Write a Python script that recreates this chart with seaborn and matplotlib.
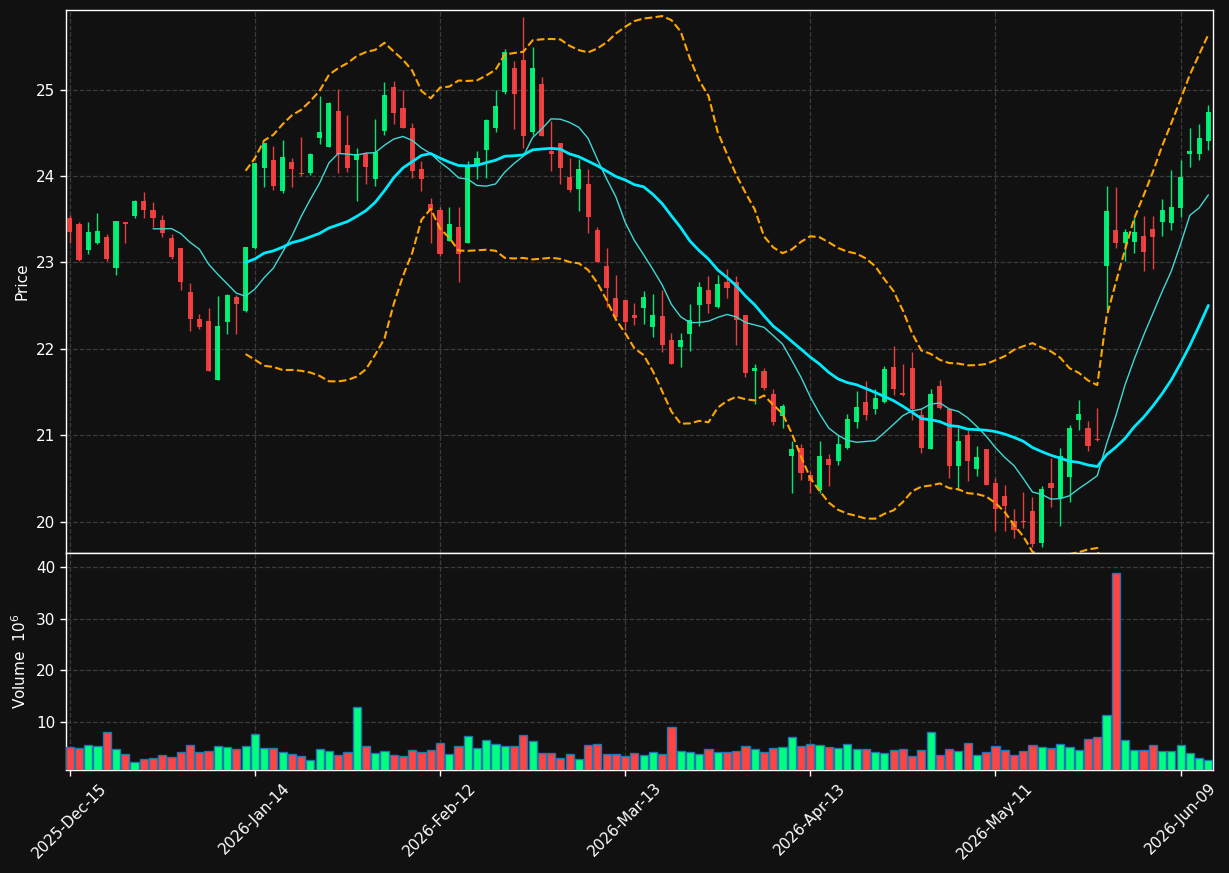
import numpy as np
import pandas as pd
import matplotlib
matplotlib.use("Agg")
import matplotlib.pyplot as plt
import seaborn as sns

start_date = "2025-12-15"
market_holidays = ["2025-12-25", "2026-01-01", "2026-01-19", "2026-02-16",
                   "2026-04-03", "2026-05-25"]

opens = [23.51, 23.45, 23.15, 23.22, 23.29, 22.94, 23.47, 23.54, 23.71, 23.61,
         23.49, 23.28, 23.17, 22.66, 22.35, 22.32, 21.64, 22.31, 22.60, 22.44,
         23.17, 24.09, 24.18, 23.83, 24.16, 24.04, 24.04, 24.44, 24.34, 24.75,
         24.36, 24.18, 24.26, 23.97, 24.52, 25.03, 24.79, 24.55, 24.08, 23.68,
         23.61, 23.25, 23.41, 23.22, 24.12, 24.30, 24.56, 24.97, 25.25, 25.34,
         24.51, 25.06, 24.29, 24.38, 23.99, 23.85, 23.91, 23.37, 22.96, 22.59,
         22.57, 22.39, 22.47, 22.25, 22.38, 22.10, 22.02, 22.17, 22.51, 22.68,
         22.49, 22.78, 22.77, 22.39, 21.75, 21.74, 21.48, 21.23, 20.76, 20.86,
         20.54, 20.37, 20.73, 20.70, 20.86, 21.16, 21.39, 21.30, 21.39, 21.79,
         21.49, 21.78, 21.24, 20.84, 21.57, 21.31, 20.65, 21.01, 20.61, 20.84,
         20.45, 20.30, 20.01, 20.01, 20.13, 19.76, 20.45, 20.28, 20.52, 21.18,
         21.08, 20.96, 22.96, 23.37, 23.23, 23.24, 23.31, 23.39, 23.47, 23.46,
         23.63, 24.26, 24.26, 24.41]
highs = [23.55, 23.47, 23.47, 23.57, 23.33, 23.48, 23.47, 23.72, 23.81, 23.70,
         23.55, 23.33, 23.17, 22.76, 22.40, 22.47, 22.61, 22.64, 22.62, 23.18,
         24.15, 24.38, 24.35, 24.42, 24.21, 24.45, 24.27, 24.93, 24.86, 25.01,
         24.71, 24.32, 24.28, 24.66, 25.09, 25.10, 24.99, 24.61, 24.17, 23.74,
         23.64, 23.64, 23.64, 24.17, 24.29, 24.66, 25.00, 25.47, 25.33, 25.84,
         25.49, 25.15, 24.64, 24.38, 24.21, 24.20, 24.08, 23.41, 23.17, 22.86,
         22.57, 22.53, 22.67, 22.63, 22.68, 22.18, 22.19, 22.52, 22.78, 22.84,
         22.85, 22.92, 22.84, 22.39, 21.83, 21.78, 21.54, 21.36, 20.94, 20.90,
         20.59, 20.94, 20.78, 21.01, 21.25, 21.51, 21.63, 21.54, 21.80, 22.03,
         21.83, 21.96, 21.31, 21.54, 21.64, 21.31, 21.08, 21.06, 20.88, 20.84,
         20.51, 20.43, 20.15, 20.35, 20.29, 20.41, 20.74, 20.86, 21.12, 21.41,
         21.17, 21.32, 23.89, 23.87, 23.39, 23.53, 23.54, 23.54, 23.73, 24.07,
         24.18, 24.55, 24.60, 24.82]
lows = [23.23, 23.02, 23.10, 23.21, 23.02, 22.86, 23.22, 23.52, 23.51, 23.41,
        23.29, 23.04, 22.68, 22.21, 22.23, 21.75, 21.64, 22.17, 22.17, 22.43,
        23.16, 23.87, 23.84, 23.80, 23.87, 24.00, 24.01, 24.37, 24.33, 24.03,
        24.05, 23.71, 23.91, 23.88, 24.47, 24.60, 24.56, 23.98, 23.83, 23.23,
        23.08, 23.25, 22.77, 23.22, 23.97, 23.98, 24.51, 24.95, 24.54, 24.32,
        24.47, 24.46, 24.06, 23.91, 23.81, 23.60, 23.34, 23.01, 22.49, 22.36,
        22.22, 22.28, 22.29, 22.14, 21.97, 21.83, 21.79, 21.98, 22.26, 22.41,
        22.47, 22.59, 22.05, 21.67, 21.36, 21.53, 21.12, 21.08, 20.33, 20.49,
        20.33, 20.33, 20.42, 20.66, 20.84, 21.08, 21.18, 21.25, 21.38, 21.47,
        21.45, 21.18, 20.80, 20.84, 21.30, 20.51, 20.37, 20.47, 20.53, 20.43,
        19.89, 19.90, 19.81, 19.93, 19.71, 19.71, 20.17, 19.95, 20.23, 21.06,
        20.82, 20.94, 22.45, 23.17, 23.02, 23.11, 22.90, 22.92, 23.31, 23.37,
        23.53, 24.10, 24.18, 24.30]
closes = [23.35, 23.03, 23.35, 23.36, 23.04, 23.48, 23.45, 23.71, 23.61, 23.52,
          23.34, 23.06, 22.77, 22.35, 22.25, 21.75, 22.27, 22.62, 22.52, 23.18,
          24.15, 24.38, 23.88, 24.22, 24.08, 24.02, 24.26, 24.51, 24.84, 24.26,
          24.09, 24.26, 24.10, 24.28, 24.94, 24.73, 24.56, 24.06, 23.96, 23.61,
          23.10, 23.45, 23.10, 24.13, 24.21, 24.65, 24.81, 25.44, 24.95, 24.46,
          25.25, 24.46, 24.25, 24.09, 23.84, 24.08, 23.53, 23.01, 22.70, 22.37,
          22.31, 22.36, 22.60, 22.39, 22.05, 21.83, 22.10, 22.33, 22.72, 22.52,
          22.75, 22.70, 22.33, 21.72, 21.78, 21.55, 21.15, 21.34, 20.84, 20.57,
          20.47, 20.76, 20.66, 20.90, 21.19, 21.33, 21.24, 21.43, 21.77, 21.54,
          21.47, 21.31, 20.86, 21.48, 21.32, 20.65, 20.94, 20.70, 20.75, 20.43,
          20.15, 20.18, 19.91, 20.00, 19.74, 20.38, 20.39, 20.76, 21.08, 21.25,
          20.88, 20.95, 23.59, 23.23, 23.35, 23.35, 23.12, 23.29, 23.61, 23.64,
          23.99, 24.29, 24.44, 24.74]
volumes_millions = [5.16, 4.97, 5.55, 5.35, 8.06, 4.77, 3.81, 2.26, 2.84, 3.03,
                    3.61, 3.23, 4.19, 5.55, 4.19, 4.39, 5.35, 5.16, 4.77, 5.35,
                    7.68, 4.97, 4.97, 4.19, 3.81, 3.42, 2.65, 4.77, 4.39, 3.61,
                    4.19, 12.90, 5.35, 4.00, 4.39, 3.61, 3.42, 4.58, 4.19, 4.58,
                    5.94, 3.81, 5.35, 7.29, 4.97, 6.52, 5.74, 5.35, 5.35, 7.48,
                    6.32, 4.00, 4.00, 3.03, 3.81, 2.84, 5.55, 5.74, 3.81, 3.81,
                    3.42, 4.00, 3.61, 4.19, 3.81, 9.03, 4.39, 4.19, 3.81, 4.77,
                    4.19, 4.19, 4.39, 5.35, 4.77, 4.19, 4.97, 5.16, 7.10, 5.35,
                    5.74, 5.55, 5.16, 4.97, 5.74, 4.77, 4.77, 4.19, 4.00, 4.58,
                    4.77, 3.42, 4.58, 8.06, 3.61, 4.77, 4.39, 5.94, 3.61, 4.19,
                    5.35, 4.58, 3.61, 4.39, 5.55, 5.16, 4.97, 5.74, 5.16, 4.58,
                    6.71, 7.10, 11.35, 38.84, 6.52, 4.58, 4.58, 5.55, 4.39, 4.39,
                    5.55, 4.00, 3.03, 2.65]

n = len(closes)
dates = pd.bdate_range(start=start_date, periods=n, freq="C", holidays=market_holidays)
df = pd.DataFrame({"open": opens, "high": highs, "low": lows, "close": closes,
                   "vol": volumes_millions})
df["idx"] = np.arange(n)
df["dir"] = np.where(df["close"] >= df["open"], "up", "down")
df["ma10"] = df["close"].rolling(10).mean()
df["ma20"] = df["close"].rolling(20).mean()
sd = df["close"].rolling(20).std(ddof=0)
df["bb_up"] = df["ma20"] + 2 * sd
df["bb_lo"] = df["ma20"] - 2 * sd

sns.set_theme(style="dark")
bg = "#111111"
plt.rcParams.update({
    "font.family": ["DejaVu Sans"],
    "figure.facecolor": bg,
    "axes.facecolor": bg,
    "axes.edgecolor": "white",
    "axes.labelcolor": "white",
    "xtick.color": "white",
    "ytick.color": "white",
    "text.color": "white",
})

UP = "#00ff7f"
DOWN = "#ff4444"

fig = plt.figure(figsize=(12.29, 8.73), dpi=100, facecolor=bg)
L, W = 66 / 1229, (1213 - 66) / 1229
ax = fig.add_axes([L, 1 - 553 / 873, W, (553 - 10) / 873])
axv = fig.add_axes([L, 1 - 770 / 873, W, (770 - 553) / 873])

# candles
for d, col in (("up", UP), ("down", DOWN)):
    sub = df[df["dir"] == d]
    ax.vlines(sub["idx"], sub["low"], sub["high"], color=col, lw=1, alpha=0.9, zorder=3)
    body_lo = np.minimum(sub["open"], sub["close"])
    body_h = np.maximum((sub["close"] - sub["open"]).abs(), 0.012)
    ax.bar(sub["idx"], body_h, bottom=body_lo, width=0.55, color=col, alpha=0.9,
           linewidth=0, zorder=3)

sns.lineplot(data=df, x="idx", y="ma10", ax=ax, color="#3fd8d2", lw=1, zorder=4)
sns.lineplot(data=df, x="idx", y="ma20", ax=ax, color="#00eaff", lw=2, zorder=4)
sns.lineplot(data=df, x="idx", y="bb_up", ax=ax, color="orange", lw=1.5,
             linestyle="--", zorder=4)
sns.lineplot(data=df, x="idx", y="bb_lo", ax=ax, color="orange", lw=1.5,
             linestyle="--", zorder=4)

# volume
sns.barplot(data=df, x="idx", y="vol", hue="dir", palette={"up": UP, "down": DOWN},
            native_scale=True, width=0.88, edgecolor="#1f77b4", linewidth=1,
            saturation=1, errorbar=None, dodge=False, legend=False, ax=axv, zorder=3)

ticks = list(range(0, n, 20))
xlim = (-0.4, n - 0.5)
for a in (ax, axv):
    a.set_xlim(*xlim)
    a.set_xticks(ticks)
    a.grid(True, color="#3c3c3c", linestyle="--", linewidth=0.9)
    a.set_axisbelow(True)
    a.set_xlabel("")
    for s in a.spines.values():
        s.set_color("white")
        s.set_linewidth(1.0)
    a.tick_params(axis="y", left=True, length=4, width=1, labelsize=11, colors="white")

ax.set_ylim(19.64, 25.92)
ax.set_yticks([20, 21, 22, 23, 24, 25])
ax.tick_params(axis="x", bottom=False, labelbottom=False)
ax.set_ylabel("Price", fontsize=11, color="white")

axv.set_ylim(0.77, 42.7)
axv.set_yticks([10, 20, 30, 40])
axv.set_xticklabels([dates[i].strftime("%Y-%b-%d") for i in ticks], rotation=45,
                    fontsize=11, color="white")
axv.tick_params(axis="x", bottom=True, length=4, width=1, colors="white")
axv.set_ylabel("Volume  $10^{6}$", fontsize=11, color="white")
ax.yaxis.set_label_coords(-0.032, 0.5)
axv.yaxis.set_label_coords(-0.032, 0.5)

fig.savefig("out.png", dpi=100, facecolor=bg)
